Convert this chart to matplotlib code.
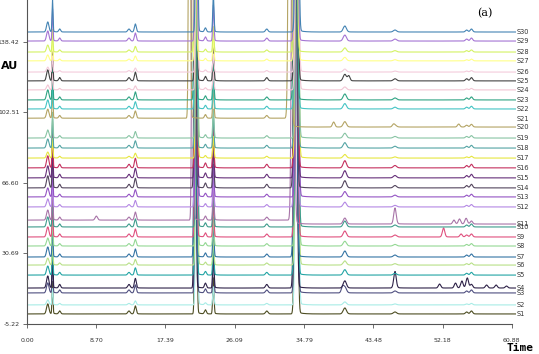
import numpy as np
import matplotlib
matplotlib.use('Agg')
import matplotlib.pyplot as plt

# 样品名和每条曲线的基线位置（AU）
names = ['S%d' % i for i in range(1, 31)]
offsets = [-0.1, 4.5, 10.6, 13.1, 19.7, 24.8, 28.9, 34.5, 39.1, 44.2,
           45.7, 54.4, 59.5, 64.1, 69.2, 74.3, 79.3, 84.4, 89.5, 95.1,
           99.2, 104.3, 108.9, 114.0, 118.6, 123.1, 128.8, 133.3, 138.9, 143.5]
colors = ['#4d4d22', '#a8ece6', '#4f4f80', '#2e2248', '#22a4a4', '#b8e088',
          '#3474a4', '#94d894', '#e0507e', '#3e9c8c', '#a874a8', '#b488e4',
          '#9454c4', '#54465e', '#66307a', '#c4305e', '#e6e640', '#54a4a4',
          '#88c4a4', '#b4a464', '#ffffff', '#44c4c4', '#30a484', '#f2c6d4',
          '#444444', '#f4ccdc', '#ffff88', '#d4f264', '#a474d4', '#4484b4']

# 共有峰：保留时间(min)，峰宽(min)，峰高(AU)
peak_rt = [2.6, 3.2, 4.1, 12.8, 13.6, 21.2, 22.4, 23.4, 30.1, 33.8, 39.9, 46.2, 55.2, 55.8]
peak_w = [0.15, 0.06, 0.12, 0.15, 0.12, 0.1, 0.12, 0.08, 0.15, 0.15, 0.2, 0.2, 0.15, 0.15]
peak_h = [5.0, 16.0, 1.5, 1.5, 4.0, 250.0, 2.0, 18.0, 1.5, 300.0, 3.0, 1.0, 1.0, 1.5]

# 每个样品的峰强度系数
scale = [1.0, 0.5, 1.0, 1.2, 0.9, 0.7, 1.0, 0.8, 1.0, 1.0,
         1.0, 0.8, 0.9, 1.2, 1.2, 1.2, 0.6, 0.9, 0.8, 0.9,
         0.0, 0.9, 1.0, 0.5, 1.1, 0.5, 0.6, 0.7, 1.0, 1.0]
# 大峰的保留时间偏移(min)
shift = [0.0, 0.1, 0.0, -0.1, 0.0, 0.1, -0.1, 0.1, 0.0, 0.1,
         -0.4, 0.0, 0.1, -0.1, 0.0, 0.0, 0.1, 0.0, 0.1, -0.8,
         0.0, 0.0, -0.1, 0.1, 0.0, 0.1, 0.0, -0.1, 0.0, 0.1]
# 大峰之前的基线抬高(AU)
step = [0, 0, 0, 0, 0, 0, 0, 0, 0, 0,
        2.0, 0, 0, 0, 0, 0, 0, 0, 0, 4.5,
        0, 0, 0, 0, 0, 0, 0, 0, 0, 0]

# 个别样品的特有峰：(样品序号, 保留时间, 峰高)
extra = [(4, 46.2, 7.0), (4, 51.8, 2.0), (4, 53.8, 2.5), (4, 54.6, 3.5),
         (4, 55.3, 4.0), (4, 57.7, 1.5), (4, 58.9, 1.5), (4, 60.2, 1.0),
         (3, 39.6, 2.5), (9, 52.3, 4.5), (9, 54.5, 1.5), (11, 46.2, 7.0),
         (11, 53.6, 2.0), (11, 54.3, 2.5), (11, 55.1, 2.0), (11, 8.7, 2.0),
         (20, 38.5, 2.5), (20, 46.0, 1.0), (20, 54.2, 1.5), (25, 40.4, 2.5)]

t = np.linspace(0, 61.4, 5000)


def gauss(rt, w, h):
    g = h * np.exp(-0.5 * ((t - rt) / w) ** 2)
    tail = np.where(t > rt, min(h * 0.03, 1.2) * np.exp(-(t - rt) / (4 * w)), 0)
    return g + tail


fig = plt.figure(figsize=(5.39, 3.54), dpi=100)
ax = fig.add_axes([27 / 539, 30 / 354, 489 / 539, 324 / 354])

for i in range(30):
    if names[i] != 'S21':
        y = np.zeros_like(t) + offsets[i]
        y = y + np.where(t < 33.8 + shift[i], step[i], 0)
        for rt, w, h in zip(peak_rt, peak_w, peak_h):
            if h > 100:
                y = y + gauss(rt + shift[i], w, h)
            else:
                y = y + gauss(rt, w, h * max(scale[i], 0.3))
        for k, rt, h in extra:
            if k == i + 1:
                y = y + gauss(rt, 0.15, h)
        ax.plot(t, y, color=colors[i], lw=0.8)
    ax.text(61.5, offsets[i], names[i], fontsize=4.8, va='center', ha='left',
            color='#333333', clip_on=False)

ax.set_xlim(0, 61.4)
ax.set_ylim(-5.22, 159.8)
xt = [0.00, 8.70, 17.39, 26.09, 34.79, 43.48, 52.18, 60.88]
yt = [-5.22, 30.69, 66.60, 102.51, 138.42]
ax.set_xticks(xt)
ax.set_xticklabels(['%.2f' % v for v in xt])
ax.set_yticks(yt)
ax.set_yticklabels(['%.2f' % v for v in yt])
ax.tick_params(labelsize=4.5, length=3, width=0.6, color='#555555', labelcolor='#333333')
ax.tick_params(axis='x', pad=7)
ax.tick_params(axis='y', pad=2.5)
ax.spines['top'].set_visible(False)
ax.spines['right'].set_visible(False)
ax.spines['bottom'].set_bounds(0, 60.88)
for s in ['left', 'bottom']:
    ax.spines[s].set_color('#555555')
    ax.spines[s].set_linewidth(0.8)

fig.text(10 / 539, 1 - 66 / 354, 'AU', fontsize=8, fontweight='bold', ha='center', va='center')
fig.text(520 / 539, 1 - 348 / 354, 'Time', fontsize=8, fontweight='bold', ha='center', va='center',
         family='DejaVu Sans Mono')
fig.text(485 / 539, 1 - 13 / 354, '(a)', fontsize=8, ha='center', va='center', family='DejaVu Serif')

fig.savefig('out.png', dpi=100)
